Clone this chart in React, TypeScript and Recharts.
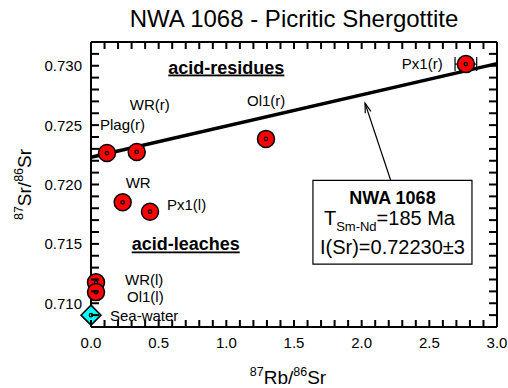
import React from 'react';
import { ScatterChart, Scatter, XAxis, YAxis, ErrorBar, ReferenceLine, ReferenceArea, Label } from 'recharts';

const FONT = '"Liberation Sans", Arial, Helvetica, sans-serif';

// measured samples (acid residues "(r)", whole rock, acid leaches "(l)")
const sampleNames = ['Plag(r)', 'WR(r)', 'Ol1(r)', 'Px1(r)', 'WR', 'Px1(l)', 'WR(l)', 'Ol1(l)'];
const rbSr = [0.118, 0.338, 1.293, 2.77, 0.234, 0.436, 0.037, 0.037];
const srSr = [0.72265, 0.72274, 0.72384, 0.73014, 0.7185, 0.71771, 0.71177, 0.71094];
const rbSrErr = [0, 0, 0, 0.08, 0, 0, 0, 0];

const seaWaterRbSr = [0];
const seaWaterSrSr = [0.709];

// isochron end points
const isochronX = [0, 3];
const isochronY = [0.7223, 0.73018];

const xMajorTicks = [0, 0.5, 1, 1.5, 2, 2.5, 3];
const yMajorTicks = [0.71, 0.715, 0.72, 0.725, 0.73];
const xTicks = Array.from({ length: 31 }, (_, i) => i / 10);
const yTicks = Array.from({ length: 25 }, (_, i) => (708 + i) / 1000);

const samples = sampleNames.map((name, i) => ({ name, x: rbSr[i], y: srSr[i], errX: rbSrErr[i] }));
const seaWater = seaWaterRbSr.map((x, i) => ({ name: 'Sea-water', x, y: seaWaterSrSr[i] }));
const isochron = isochronX.map((x, i) => ({ x, y: isochronY[i] }));

// label offsets from marker centre (px)
const labelOffset: Record<string, [number, number]> = {
  'Plag(r)': [-7, -23],
  'WR(r)': [-7, -42],
  'Ol1(r)': [-19, -33],
  'Px1(r)': [-64, 5],
  'WR': [3, -14],
  'Px1(l)': [17, -2],
  'WR(l)': [29, 3],
  'Ol1(l)': [31, 10],
  'Sea-water': [19, 6],
};

// chart layout
const W = 508;
const H = 388;
const MARGIN = { top: 41, right: 10, bottom: 0, left: 0 };
const X_AXIS_H = 61;
const Y_AXIS_W = 91;
const PLOT_W = W - MARGIN.left - MARGIN.right - Y_AXIS_W - 1;
const PLOT_H = H - MARGIN.top - MARGIN.bottom - X_AXIS_H - 1;

const axisStyle = { stroke: '#000', strokeWidth: 2 };
const isMajor = (v: number, majors: number[]) => majors.some((m) => Math.abs(m - v) < 1e-9);

// bottom ticks also draw the matching inward tick on the top frame
const BottomTick = ({ x, y, payload }: any) => {
  const top = y - PLOT_H;
  return (
    <g>
      <rect x={x - 1} y={y - 7} width={2} height={7} fill="#000" />
      <rect x={x - 1} y={top} width={2} height={7} fill="#000" />
      {isMajor(payload.value, xMajorTicks) && (
        <text x={x} y={y + 21} textAnchor="middle" fontSize={15} fontFamily={FONT} fill="#000">
          {payload.value.toFixed(1)}
        </text>
      )}
    </g>
  );
};

// left ticks also draw the matching inward tick on the right frame
const LeftTick = ({ x, y, payload }: any) => {
  const right = x + PLOT_W;
  return (
    <g>
      <rect x={x} y={y - 1} width={8} height={2} fill="#000" />
      <rect x={right - 8} y={y - 1} width={8} height={2} fill="#000" />
      {isMajor(payload.value, yMajorTicks) && (
        <text x={x - 9} y={y + 5.5} textAnchor="end" fontSize={15} fontFamily={FONT} fill="#000">
          {payload.value.toFixed(3)}
        </text>
      )}
    </g>
  );
};

const SampleDot = (props: any) => {
  const { cx, cy, payload } = props;
  const [dx, dy] = labelOffset[payload.name] ?? [10, 0];
  return (
    <g>
      <circle cx={cx} cy={cy} r={8.5} fill="#ff0000" stroke="#000" strokeWidth={1.5} />
      <circle cx={cx} cy={cy} r={1.7} fill="#ff0000" stroke="#000" strokeWidth={1.3} />
      <text x={cx + dx} y={cy + dy} fontSize={15} fontFamily={FONT} fill="#000">{payload.name}</text>
    </g>
  );
};

const SeaWaterDot = (props: any) => {
  const { cx, cy, payload } = props;
  const [dx, dy] = labelOffset[payload.name] ?? [10, 0];
  const d = 10;
  return (
    <g>
      <polygon
        points={`${cx},${cy - d} ${cx + d},${cy} ${cx},${cy + d} ${cx - d},${cy}`}
        fill="#00ffff"
        stroke="#000"
        strokeWidth={1.5}
      />
      <circle cx={cx} cy={cy} r={1.7} fill="#00ffff" stroke="#000" strokeWidth={1.3} />
      <text x={cx + dx} y={cy + dy} fontSize={15} fontFamily={FONT} fill="#000">{payload.name}</text>
    </g>
  );
};

const NoDot = () => <g />;

const Arrow = (props: any) => {
  const { x1, y1, x2, y2 } = props;
  const ang = Math.atan2(y1 - y2, x1 - x2);
  const len = 10;
  const spread = 0.3;
  const ax = x2 + len * Math.cos(ang - spread);
  const ay = y2 + len * Math.sin(ang - spread);
  const bx = x2 + len * Math.cos(ang + spread);
  const by = y2 + len * Math.sin(ang + spread);
  return (
    <g>
      <line x1={x1} y1={y1} x2={x2} y2={y2} stroke="#000" strokeWidth={1.2} />
      <polyline points={`${ax},${ay} ${x2},${y2} ${bx},${by}`} fill="none" stroke="#000" strokeWidth={1.2} />
    </g>
  );
};

const BoxText = ({ viewBox }: any) => {
  const { x, y, width } = viewBox;
  const cx = x + width / 2;
  return (
    <g fontFamily={FONT} fill="#000">
      <text x={cx} y={y + 24} textAnchor="middle" fontSize={18} fontWeight="bold">NWA 1068</text>
      <text x={cx - 3} y={y + 45} textAnchor="middle" fontSize={20}>
        T<tspan fontSize={13} dy={6}>Sm-Nd</tspan>
        <tspan dy={-6}>=185 Ma</tspan>
      </text>
      <text x={cx} y={y + 74} textAnchor="middle" fontSize={20}>I(Sr)=0.72230±3</text>
    </g>
  );
};

const XTitle = ({ viewBox }: any) => {
  const { x, y, width } = viewBox;
  return (
    <text x={x + width / 2 - 6} y={y + 57} textAnchor="middle" fontFamily={FONT} fontSize={19} fill="#000">
      <tspan fontSize={12.5} dy={-8}>87</tspan>
      <tspan dy={8}>Rb/</tspan>
      <tspan fontSize={12.5} dy={-8}>86</tspan>
      <tspan dy={8}>Sr</tspan>
    </text>
  );
};

const YTitle = ({ viewBox }: any) => {
  const { y, height } = viewBox;
  const cy = y + height / 2;
  return (
    <text
      x={31}
      y={cy}
      transform={`rotate(-90 31 ${cy})`}
      textAnchor="middle"
      fontFamily={FONT}
      fontSize={19}
      fill="#000"
    >
      <tspan fontSize={12.5} dy={-8}>87</tspan>
      <tspan dy={8}>Sr/</tspan>
      <tspan fontSize={12.5} dy={-8}>86</tspan>
      <tspan dy={8}>Sr</tspan>
    </text>
  );
};

const Title = ({ viewBox }: any) => {
  const { x, width, y, height } = viewBox;
  return (
    <text x={x + width / 2} y={y + height - 15} textAnchor="middle" fontFamily={FONT} fontSize={24} fill="#000">
      NWA 1068 - Picritic Shergottite
    </text>
  );
};

const BoldUnderlined = (text: string) => ({ viewBox }: any) => (
  <text
    x={viewBox.x + viewBox.width / 2}
    y={viewBox.y + viewBox.height / 2 + 6}
    textAnchor="middle"
    fontFamily={FONT}
    fontSize={18}
    fontWeight="bold"
    textDecoration="underline"
    fill="#000"
  >
    {text}
  </text>
);

export default function App() {
  return (
    <div style={{ position: 'absolute', left: 0, top: 0, width: W, height: H, background: '#fff' }}>
      <ScatterChart width={W} height={H} margin={MARGIN}>
        <XAxis
          type="number"
          dataKey="x"
          domain={[0, 3]}
          ticks={xTicks}
          interval={0}
          tickSize={0}
          tickMargin={0}
          tickLine={false}
          tick={BottomTick}
          axisLine={axisStyle}
          height={X_AXIS_H}
        >
          <Label content={XTitle} />
        </XAxis>
        <XAxis
          xAxisId="top"
          orientation="top"
          type="number"
          dataKey="x"
          domain={[0, 3]}
          ticks={[0, 3]}
          tick={false}
          tickLine={false}
          axisLine={axisStyle}
          height={1}
        >
          <Label content={Title} />
        </XAxis>
        <YAxis
          type="number"
          dataKey="y"
          domain={[0.708, 0.732]}
          ticks={yTicks}
          interval={0}
          tickSize={0}
          tickMargin={0}
          tickLine={false}
          tick={LeftTick}
          axisLine={axisStyle}
          width={Y_AXIS_W}
        >
          <Label content={YTitle} />
        </YAxis>
        <YAxis
          yAxisId="right"
          orientation="right"
          type="number"
          dataKey="y"
          domain={[0.708, 0.732]}
          ticks={[0.708, 0.732]}
          tick={false}
          tickLine={false}
          axisLine={axisStyle}
          width={1}
        />

        <ReferenceLine
          segment={[{ x: 2.215, y: 0.72034 }, { x: 2.025, y: 0.72684 }]}
          shape={Arrow}
        />
        <ReferenceArea
          x1={1.64}
          x2={2.815}
          y1={0.71329}
          y2={0.72034}
          fill="#fff"
          fillOpacity={1}
          stroke="#000"
          strokeWidth={1.2}
          label={BoxText}
        />
        <ReferenceArea
          x1={0.58}
          x2={1.42}
          y1={0.7295}
          y2={0.7302}
          fillOpacity={0}
          strokeOpacity={0}
          label={BoldUnderlined('acid-residues')}
        />
        <ReferenceArea
          x1={0.3}
          x2={1.1}
          y1={0.7146}
          y2={0.7153}
          fillOpacity={0}
          strokeOpacity={0}
          label={BoldUnderlined('acid-leaches')}
        />

        <Scatter
          xAxisId="top"
          yAxisId="right"
          data={isochron}
          line={{ stroke: '#000', strokeWidth: 3.5 }}
          shape={NoDot}
          isAnimationActive={false}
        />
        <Scatter data={samples} shape={NoDot} isAnimationActive={false}>
          <ErrorBar dataKey="errX" direction="x" width={7} stroke="#000" strokeWidth={1.2} />
        </Scatter>
        <Scatter data={samples} shape={SampleDot} isAnimationActive={false} />
        <Scatter data={seaWater} shape={SeaWaterDot} isAnimationActive={false} />
      </ScatterChart>
    </div>
  );
}
